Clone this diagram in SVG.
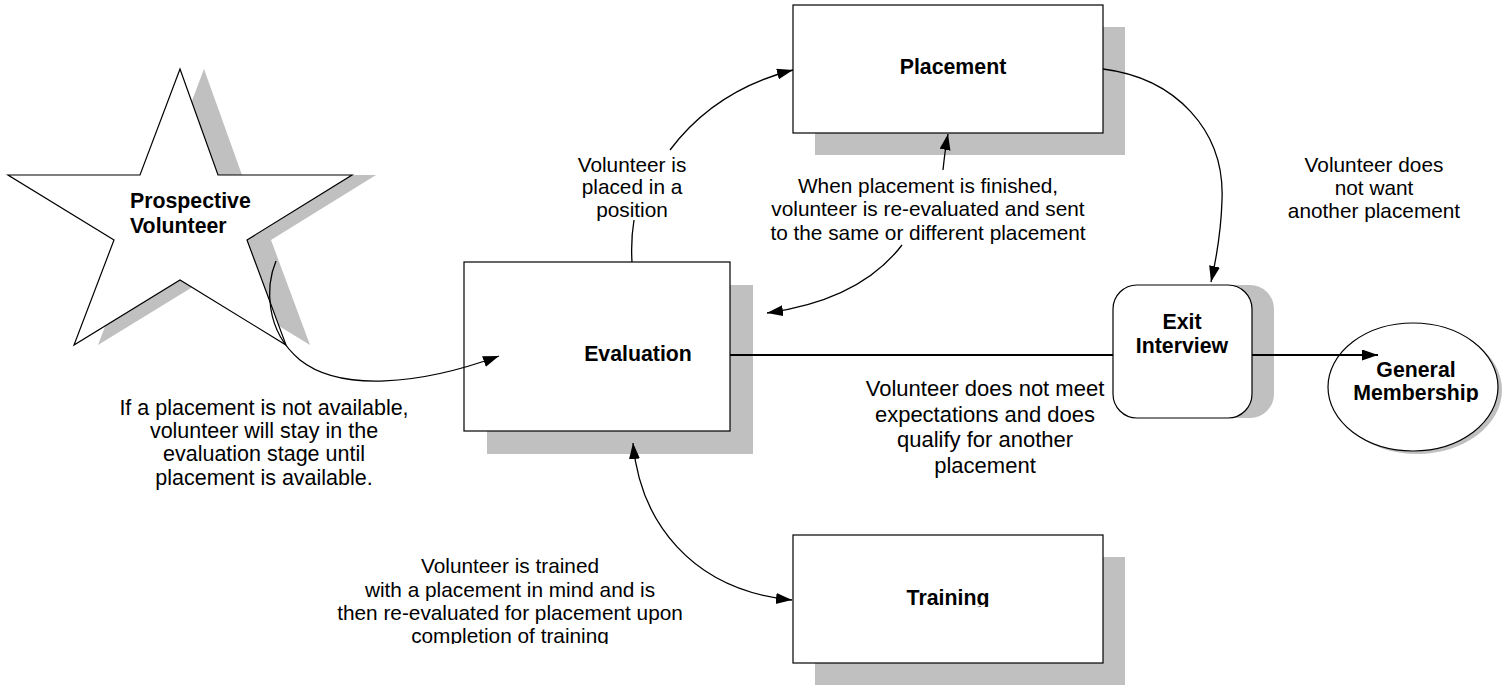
<svg xmlns="http://www.w3.org/2000/svg" width="1507" height="685" viewBox="0 0 1507 685">
<style>
.shadow{fill:#c0c0c0;stroke:none}
.box{fill:#fff;stroke:#000;stroke-width:1.2}
.title{font-family:"Liberation Sans",Arial,sans-serif;font-weight:bold;font-size:21.3px;fill:#000;text-anchor:middle}
.lbl{font-family:"Liberation Sans",Arial,sans-serif;font-size:20.8px;fill:#000;text-anchor:middle}
.big{font-size:22px}
.mid{font-size:21.5px}
.conn{fill:none;stroke:#000;stroke-width:1.3}
.thick{fill:none;stroke:#000;stroke-width:2.2}
</style>
<defs>
<marker id="arr" markerUnits="userSpaceOnUse" markerWidth="18" markerHeight="12" refX="16" refY="5.5" orient="auto-start-reverse">
<path d="M0,0 L16,5.5 L0,11 z" fill="#000"/>
</marker>
<clipPath id="clipGM"><rect x="1300" y="300" width="207" height="102"/></clipPath>
<clipPath id="clipTr"><rect x="790" y="530" width="320" height="77"/></clipPath>
<clipPath id="clipLb"><rect x="300" y="540" width="400" height="104"/></clipPath>
</defs>

<g id="prospective-volunteer">
<polygon class="shadow" points="204,69 242,175 376,175 271,240 310,345 204,280 98,345 138,240 32,175 164,175"/>
<polygon class="box" points="180,69 218,175 352,175 247,240 286,345 180,280 74,345 114,240 8,175 140,175"/>
<text class="title" style="text-anchor:start" x="130" y="208">Prospective</text>
<text class="title" style="text-anchor:start" x="130" y="233">Volunteer</text>
</g>

<g id="placement">
<rect class="shadow" x="815" y="27" width="310" height="128"/>
<rect class="box" x="793" y="5" width="310" height="128"/>
<text class="title" x="953" y="74">Placement</text>
</g>

<g id="evaluation">
<rect class="shadow" x="487" y="285" width="266" height="169"/>
<rect class="box" x="464" y="262" width="266" height="169"/>
<text class="title" x="638" y="361">Evaluation</text>
</g>

<g id="training">
<rect class="shadow" x="815" y="557" width="310" height="128"/>
<rect class="box" x="793" y="535" width="310" height="128"/>
<text class="title" x="948" y="605" clip-path="url(#clipTr)">Training</text>
</g>

<g id="exit-interview">
<rect class="shadow" x="1135" y="285" width="139" height="133" rx="24"/>
<rect class="box" x="1113" y="285" width="139" height="133" rx="24"/>
<text class="title" x="1182" y="329">Exit</text>
<text class="title" x="1182" y="353">Interview</text>
</g>

<g id="general-membership">
<ellipse class="shadow" cx="1417" cy="390" rx="85" ry="64"/>
<ellipse class="box" cx="1413" cy="387" rx="85" ry="64"/>
<g clip-path="url(#clipGM)">
<text class="title" x="1416" y="377">General</text>
<text class="title" x="1416" y="400">Membership</text>
</g>
</g>

<g id="connectors">
<path class="conn" d="M276,261 C266,285 264,330 300,360 C340,392 420,385 499,356" marker-end="url(#arr)"/>
<path class="conn" d="M632,262 C631,245 632,232 634,220"/>
<path class="conn" d="M670,150 Q715,90 793,70" marker-end="url(#arr)"/>
<path class="conn" d="M943,170 Q945,150 948,134" marker-end="url(#arr)"/>
<path class="conn" d="M902,245 Q860,300 767,313" marker-end="url(#arr)"/>
<path class="conn" d="M1103,69 C1175,78 1225,130 1222,200 C1221,235 1216,260 1211,282" marker-end="url(#arr)"/>
<path class="conn" d="M633,443 C640,520 690,590 792,600" marker-start="url(#arr)" marker-end="url(#arr)"/>
<path class="thick" d="M730,355 L1113,355"/>
<path class="thick" d="M1252,355 L1378,355" marker-end="url(#arr)"/>
</g>

<g id="labels">
<text class="lbl" x="632" y="172">Volunteer is</text>
<text class="lbl" x="632" y="194">placed in a</text>
<text class="lbl" x="632" y="217">position</text>

<text class="lbl" x="928" y="193">When placement is finished,</text>
<text class="lbl" x="928" y="216">volunteer is re-evaluated and sent</text>
<text class="lbl" x="928" y="240">to the same or different placement</text>

<text class="lbl" x="1374" y="172">Volunteer does</text>
<text class="lbl" x="1374" y="195">not want</text>
<text class="lbl" x="1374" y="218">another placement</text>

<text class="lbl mid" x="264" y="415">If a placement is not available,</text>
<text class="lbl mid" x="264" y="438">volunteer will stay in the</text>
<text class="lbl mid" x="264" y="461">evaluation stage until</text>
<text class="lbl mid" x="264" y="485">placement is available.</text>

<text class="lbl big" x="985" y="396">Volunteer does not meet</text>
<text class="lbl big" x="985" y="421.5">expectations and does</text>
<text class="lbl big" x="985" y="447">qualify for another</text>
<text class="lbl big" x="985" y="472.5">placement</text>

<g clip-path="url(#clipLb)">
<text class="lbl" x="510" y="573">Volunteer is trained</text>
<text class="lbl" x="510" y="597">with a placement in mind and is</text>
<text class="lbl" x="510" y="620">then re-evaluated for placement upon</text>
<text class="lbl" x="510" y="643">completion of training</text>
</g>
</g>
</svg>
